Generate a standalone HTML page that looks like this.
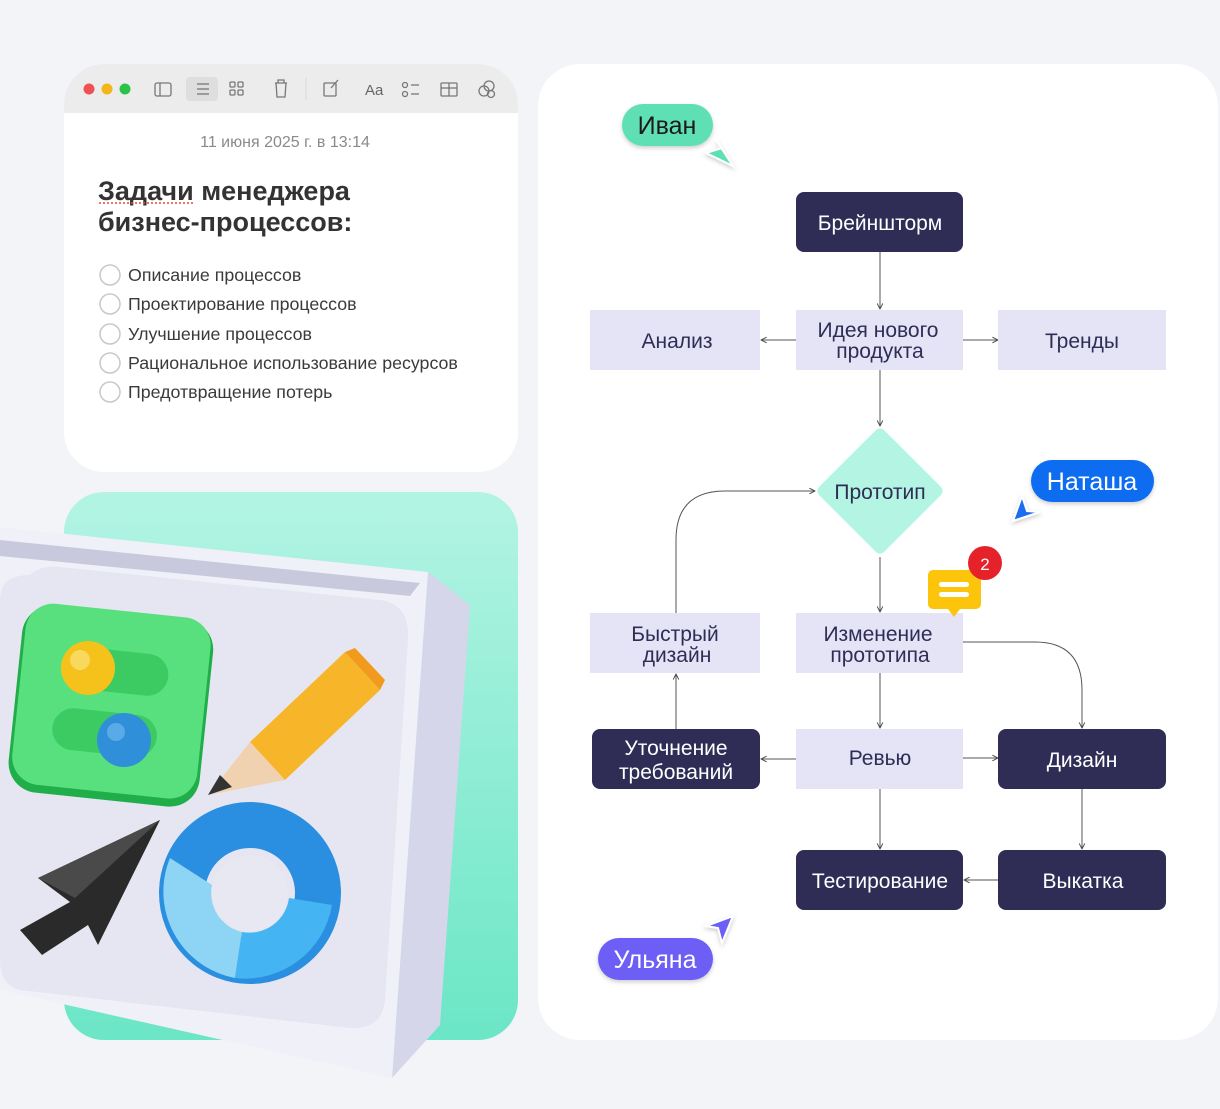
<!DOCTYPE html>
<html><head><meta charset="utf-8"><style>
html,body{margin:0;padding:0;background:#f3f4f8;}
body{width:1220px;height:1104px;overflow:hidden;font-family:"Liberation Sans","DejaVu Sans",sans-serif;}
text{font-family:"Liberation Sans","DejaVu Sans",sans-serif;}
</style></head><body>
<svg width="1220" height="1104" viewBox="0 0 1220 1104" xmlns="http://www.w3.org/2000/svg">
<defs>
<linearGradient id="gr" x1="0" y1="0" x2="0" y2="1"><stop offset="0" stop-color="#b3f4e3"/><stop offset="1" stop-color="#6be6c6"/></linearGradient>
<marker id="ar" viewBox="0 0 10 10" refX="9" refY="5" markerWidth="7" markerHeight="7" orient="auto-start-reverse"><path d="M1 1 L9 5 L1 9" fill="none" stroke="#444" stroke-width="1.3"/></marker>
<filter id="sh" x="-20%" y="-20%" width="140%" height="160%"><feDropShadow dx="0" dy="2" stdDeviation="2" flood-opacity="0.2"/></filter>
</defs>
<rect width="1220" height="1104" fill="#f3f4f8"/>
<!-- note card -->
<rect x="64" y="64" width="454" height="408" rx="40" fill="#ffffff"/>
<path d="M104 64 H478 A40 40 0 0 1 518 104 V113 H64 V104 A40 40 0 0 1 104 64Z" fill="#ececec"/>
<circle cx="89" cy="89" r="5.5" fill="#f05252"/><circle cx="107" cy="89" r="5.5" fill="#f5b61a"/><circle cx="125" cy="89" r="5.5" fill="#2cc24a"/>
<g stroke="#777" stroke-width="1.3" fill="none">
<rect x="155" y="83" width="16" height="13" rx="2"/><line x1="160" y1="83" x2="160" y2="96"/>
<rect x="186" y="77" width="32" height="24" rx="4" fill="#dedede" stroke="none"/>
<line x1="197" y1="84" x2="209" y2="84"/><line x1="197" y1="89" x2="209" y2="89"/><line x1="197" y1="94" x2="209" y2="94"/>
<rect x="230" y="82" width="5" height="5" rx="1"/><rect x="238" y="82" width="5" height="5" rx="1"/><rect x="230" y="90" width="5" height="5" rx="1"/><rect x="238" y="90" width="5" height="5" rx="1"/>
<path d="M275 83 H287 M278 83 V80 H284 V83 M276 83 L277 97 H285 L286 83"/>
<line x1="306" y1="78" x2="306" y2="100" stroke="#ddd"/>
<rect x="324" y="83" width="12" height="13" rx="1"/><path d="M331 88 L338 80"/>
<circle cx="405" cy="85" r="2.5"/><circle cx="405" cy="94" r="2.5"/><line x1="411" y1="85" x2="419" y2="85"/><line x1="411" y1="94" x2="419" y2="94"/>
<rect x="441" y="83" width="16" height="13" rx="1"/><line x1="441" y1="88" x2="457" y2="88"/><line x1="449" y1="83" x2="449" y2="96"/>
<circle cx="484" cy="91" r="5"/><circle cx="489" cy="86" r="5"/><circle cx="491" cy="94" r="3.5"/>
</g>
<text x="365" y="95" font-size="15" fill="#666">Aa</text>
<text x="285" y="147" font-size="16" fill="#8a8a8a" text-anchor="middle">11 июня 2025 г. в 13:14</text>
<text x="98" y="200" font-size="27" font-weight="bold" fill="#333">Задачи менеджера</text>
<text x="98" y="231" font-size="27" font-weight="bold" fill="#333">бизнес-процессов:</text>
<line x1="99" y1="203" x2="195" y2="203" stroke="#e44" stroke-width="1.5" stroke-dasharray="2 2"/>
<g fill="none" stroke="#c8c8c8" stroke-width="1.5">
<circle cx="110" cy="275" r="10"/><circle cx="110" cy="304" r="10"/><circle cx="110" cy="334" r="10"/><circle cx="110" cy="363" r="10"/><circle cx="110" cy="392" r="10"/>
</g>
<g font-size="17.8" fill="#3a3a3a">
<text x="128" y="281">Описание процессов</text>
<text x="128" y="310">Проектирование процессов</text>
<text x="128" y="340">Улучшение процессов</text>
<text x="128" y="369">Рациональное использование ресурсов</text>
<text x="128" y="398">Предотвращение потерь</text>
</g>
<!-- green panel -->
<rect x="64" y="492" width="454" height="548" rx="40" fill="url(#gr)"/>
<!-- box -->
<polygon points="428,572 470,605 440,1025 392,1078" fill="#d6d6ea"/>
<polygon points="0,527 428,572 392,1078 0,990" fill="#f0f0f8"/>
<polygon points="0,540 420,583 410,596 0,556" fill="#c9c9dd"/>
<path d="M30 575 Q40 565 60 567 L380 600 Q410 604 408 640 L385 1000 Q382 1030 350 1028 L20 990 Q0 985 0 960 L0 600 Q0 575 30 575Z" fill="#e6e6f2"/>
<!-- green tile -->
<g transform="rotate(6 110 705)">
<rect x="15" y="612" width="192" height="188" rx="30" fill="#1fae4a"/>
<rect x="18" y="610" width="186" height="182" rx="28" fill="#59e07e"/>
<rect x="60" y="650" width="105" height="42" rx="21" fill="#3ccb63"/>
<rect x="55" y="712" width="105" height="42" rx="21" fill="#3ccb63"/>
</g>
<circle cx="88" cy="668" r="27" fill="#f4c21a"/><circle cx="80" cy="660" r="10" fill="#fbe27a" opacity="0.7"/>
<circle cx="124" cy="740" r="27" fill="#2f8fd8"/><circle cx="116" cy="732" r="9" fill="#6bb7ee" opacity="0.7"/>
<!-- pencil -->
<polygon points="250,742 345,652 380,690 285,780" fill="#f7b52a"/>
<polygon points="345,652 355,648 385,680 380,690" fill="#f19b1e"/>
<polygon points="250,742 285,780 208,795" fill="#f1d2b0"/>
<polygon points="220,775 232,787 208,795" fill="#333"/>
<!-- black arrow -->
<polygon points="160,820 38,878 70,902 20,930 42,955 88,925 98,945" fill="#2a2a2a"/>
<polygon points="160,820 38,878 75,898" fill="#4a4a4a"/>
<!-- ring -->
<circle cx="250" cy="893" r="68" fill="none" stroke="#2a8fe0" stroke-width="46"/>
<path d="M170 858 A88 88 0 0 0 235 978 L242 932 A40 40 0 0 1 212 885Z" fill="#8ed4f4"/>
<path d="M235 978 A88 88 0 0 0 332 905 L289 898 A40 40 0 0 1 242 932Z" fill="#45b4f2"/>
<circle cx="250" cy="893" r="38" fill="#e8e8f2"/>
<!-- right panel -->
<rect x="538" y="64" width="680" height="976" rx="42" fill="#ffffff"/>
<!-- connectors -->
<g stroke="#555" stroke-width="1" fill="none" marker-end="url(#ar)">
<line x1="880" y1="252" x2="880" y2="309"/>
<line x1="796" y1="340" x2="761" y2="340"/>
<line x1="963" y1="340" x2="998" y2="340"/>
<line x1="880" y1="370" x2="880" y2="426"/>
<path d="M676 613 V540 Q676 491 725 491 H815"/>
<line x1="880" y1="557" x2="880" y2="612"/>
<path d="M963 642 H1035 Q1082 642 1082 690 V728"/>
<line x1="880" y1="673" x2="880" y2="728"/>
<line x1="676" y1="729" x2="676" y2="674"/>
<line x1="796" y1="759" x2="761" y2="759"/>
<line x1="963" y1="758" x2="998" y2="758"/>
<line x1="880" y1="789" x2="880" y2="849"/>
<line x1="1082" y1="789" x2="1082" y2="849"/>
<line x1="998" y1="880" x2="964" y2="880"/>
</g>
<!-- nodes -->
<g fill="#e4e4f6">
<rect x="590" y="310" width="170" height="60"/><rect x="796" y="310" width="167" height="60"/><rect x="998" y="310" width="168" height="60"/>
<rect x="590" y="613" width="170" height="60"/><rect x="796" y="613" width="167" height="60"/>
<rect x="796" y="729" width="167" height="60"/>
</g>
<g fill="#2f2d55">
<rect x="796" y="192" width="167" height="60" rx="8"/>
<rect x="592" y="729" width="168" height="60" rx="8"/><rect x="998" y="729" width="168" height="60" rx="8"/>
<rect x="796" y="850" width="167" height="60" rx="8"/><rect x="998" y="850" width="168" height="60" rx="8"/>
</g>
<rect x="834" y="445" width="92" height="92" rx="6" fill="#b3f4e3" transform="rotate(45 880 491)"/>
<g font-size="21" text-anchor="middle" fill="#2f2d55">
<text x="880" y="230" fill="#fff">Брейншторм</text>
<text x="677" y="348">Анализ</text>
<text x="878" y="337">Идея нового</text><text x="880" y="358">продукта</text>
<text x="1082" y="348">Тренды</text>
<text x="880" y="499">Прототип</text>
<text x="675" y="641">Быстрый</text><text x="677" y="662">дизайн</text>
<text x="878" y="641">Изменение</text><text x="880" y="662">прототипа</text>
<text x="676" y="755" fill="#fff">Уточнение</text><text x="676" y="779" fill="#fff">требований</text>
<text x="880" y="765">Ревью</text>
<text x="1082" y="767" fill="#fff">Дизайн</text>
<text x="880" y="888" fill="#fff">Тестирование</text>
<text x="1083" y="888" fill="#fff">Выкатка</text>
</g>
<!-- chat icon -->
<path d="M933 570 H976 A5 5 0 0 1 981 575 V604 A5 5 0 0 1 976 609 H960 L954 617 L948 609 H933 A5 5 0 0 1 928 604 V575 A5 5 0 0 1 933 570Z" fill="#fcc40a"/>
<rect x="939" y="582" width="30" height="5" rx="2.5" fill="#fff"/><rect x="939" y="592" width="30" height="5" rx="2.5" fill="#fff"/>
<circle cx="985" cy="563" r="17" fill="#e5222a"/>
<text x="985" y="570" font-size="17" fill="#fff" text-anchor="middle">2</text>
<!-- users -->
<rect x="622" y="104" width="91" height="42" rx="21" fill="#5fe0b4" filter="url(#sh)"/>
<text x="667" y="134" font-size="25" fill="#1a1a1a" text-anchor="middle">Иван</text>
<polygon points="733,166 706,153 722,148 716,140" fill="#5fe0b4" stroke="#fff" stroke-width="2" filter="url(#sh)"/>
<rect x="1031" y="460" width="123" height="42" rx="21" fill="#0a6cf0" filter="url(#sh)"/>
<text x="1092" y="490" font-size="25" fill="#fff" text-anchor="middle">Наташа</text>
<polygon points="1013,521 1022,496 1027,511 1040,512" fill="#1c6cf0" stroke="#fff" stroke-width="2" filter="url(#sh)"/>
<rect x="598" y="938" width="115" height="42" rx="21" fill="#6d5ef5" filter="url(#sh)"/>
<text x="655" y="968" font-size="25" fill="#fff" text-anchor="middle">Ульяна</text>
<polygon points="733,916 722,943 718,928 706,926" fill="#6d5ef5" stroke="#fff" stroke-width="2" filter="url(#sh)"/>
</svg>
</body></html>
